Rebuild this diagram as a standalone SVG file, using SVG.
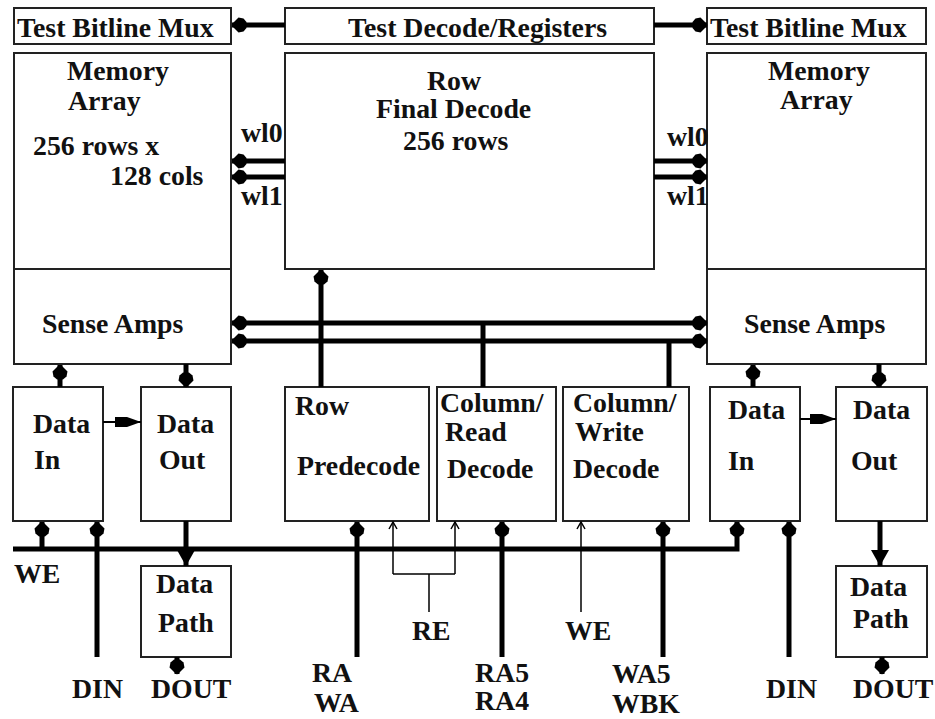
<svg xmlns="http://www.w3.org/2000/svg" width="935" height="719" viewBox="0 0 935 719">
  <style>
    .box { fill: #fff; stroke: #222; stroke-width: 2; }
    .t { font-family: "Liberation Serif", "Times New Roman", serif; font-weight: bold; font-size: 27.8px; fill: #111; }
    .bus { fill: none; stroke: #000; stroke-width: 5; }
    .thin { fill: none; stroke: #000; stroke-width: 1.5; }
    .mid { fill: none; stroke: #000; stroke-width: 2; }
  </style>
  <defs>
    <!-- blunt kite-shaped head used on the wide buses -->
    <marker id="head" viewBox="0 0 18 16" refX="17.5" refY="8" markerWidth="18" markerHeight="16" markerUnits="userSpaceOnUse" orient="auto-start-reverse">
      <path d="M18,8 L16,5.5 L11,0.5 L6,1.5 L3,5 L3,11 L6,14.5 L11,15.5 L16,10.5 Z" fill="#000"/>
    </marker>
    <!-- flat-backed triangle for data out into the data path -->
    <marker id="wedge" viewBox="0 0 16 18" refX="16" refY="9" markerWidth="16" markerHeight="18" markerUnits="userSpaceOnUse" orient="auto">
      <path d="M0,0 L16,9 L0,18 Z" fill="#000"/>
    </marker>
    <marker id="tri" viewBox="0 0 26 12" refX="26" refY="6" markerWidth="26" markerHeight="12" markerUnits="userSpaceOnUse" orient="auto">
      <path d="M0,1 L12,1 L26,6 L12,11 L0,11 Z" fill="#000"/>
    </marker>
    <marker id="open" viewBox="0 0 10 10" refX="5" refY="1" markerWidth="10" markerHeight="10" markerUnits="userSpaceOnUse" orient="0">
      <path d="M1,8 L5,1 L9,8" fill="none" stroke="#000" stroke-width="1.5"/>
    </marker>
  </defs>
  <rect width="935" height="719" fill="#fff"/>

  <!-- blocks -->
  <g id="test-mux-left">
    <rect class="box" x="14" y="8" width="217" height="36"/>
    <text class="t" x="17" y="37">Test Bitline Mux</text>
  </g>
  <g id="test-decode">
    <rect class="box" x="285" y="8" width="369" height="36"/>
    <text class="t" x="348" y="37">Test Decode/Registers</text>
  </g>
  <g id="test-mux-right">
    <rect class="box" x="707" y="8" width="219" height="36"/>
    <text class="t" x="710" y="37">Test Bitline Mux</text>
  </g>

  <g id="array-left">
    <rect class="box" x="14" y="53" width="217" height="311"/>
    <line x1="14" y1="269" x2="231" y2="269" stroke="#222" stroke-width="2"/>
    <text class="t" x="67" y="80">Memory</text>
    <text class="t" x="68" y="110">Array</text>
    <text class="t" x="33" y="155">256 rows x</text>
    <text class="t" x="110" y="185">128 cols</text>
    <text class="t" x="42" y="333">Sense Amps</text>
  </g>
  <g id="row-final-decode">
    <rect class="box" x="285" y="53" width="369" height="216"/>
    <text class="t" x="427" y="90">Row</text>
    <text class="t" x="376" y="118">Final Decode</text>
    <text class="t" x="403" y="150">256 rows</text>
  </g>
  <g id="array-right">
    <rect class="box" x="707" y="53" width="219" height="311"/>
    <line x1="707" y1="269" x2="926" y2="269" stroke="#222" stroke-width="2"/>
    <text class="t" x="768" y="80">Memory</text>
    <text class="t" x="780" y="109">Array</text>
    <text class="t" x="744" y="333">Sense Amps</text>
  </g>

  <g id="data-in-left">
    <rect class="box" x="13" y="387" width="90" height="134"/>
    <text class="t" x="33" y="433">Data</text>
    <text class="t" x="34" y="469">In</text>
  </g>
  <g id="data-out-left">
    <rect class="box" x="141" y="387" width="90" height="134"/>
    <text class="t" x="157" y="433">Data</text>
    <text class="t" x="159" y="469">Out</text>
  </g>
  <g id="row-predecode">
    <rect class="box" x="285" y="387" width="144" height="134"/>
    <text class="t" x="295" y="415">Row</text>
    <text class="t" x="297" y="475">Predecode</text>
  </g>
  <g id="column-read-decode">
    <rect class="box" x="437" y="387" width="119" height="134"/>
    <text class="t" x="440" y="412">Column/</text>
    <text class="t" x="445" y="441">Read</text>
    <text class="t" x="447" y="478">Decode</text>
  </g>
  <g id="column-write-decode">
    <rect class="box" x="563" y="387" width="126" height="134"/>
    <text class="t" x="573" y="412">Column/</text>
    <text class="t" x="575" y="441">Write</text>
    <text class="t" x="573" y="478">Decode</text>
  </g>
  <g id="data-in-right">
    <rect class="box" x="710" y="387" width="90" height="134"/>
    <text class="t" x="728" y="419">Data</text>
    <text class="t" x="728" y="470">In</text>
  </g>
  <g id="data-out-right">
    <rect class="box" x="836" y="387" width="91" height="134"/>
    <text class="t" x="853" y="419">Data</text>
    <text class="t" x="851" y="470">Out</text>
  </g>
  <g id="data-path-left">
    <rect class="box" x="141" y="566" width="90" height="91"/>
    <text class="t" x="156" y="593">Data</text>
    <text class="t" x="158" y="632">Path</text>
  </g>
  <g id="data-path-right">
    <rect class="box" x="836" y="566" width="91" height="91"/>
    <text class="t" x="850" y="596">Data</text>
    <text class="t" x="853" y="628">Path</text>
  </g>

  <!-- signal labels -->
  <g id="labels">
    <text class="t" x="241" y="142">wl0</text>
    <text class="t" x="241" y="205">wl1</text>
    <text class="t" x="667" y="146">wl0</text>
    <text class="t" x="667" y="205">wl1</text>
    <text class="t" x="14" y="583">WE</text>
    <text class="t" x="72" y="698">DIN</text>
    <text class="t" x="151" y="698">DOUT</text>
    <text class="t" x="312" y="682">RA</text>
    <text class="t" x="314" y="712">WA</text>
    <text class="t" x="412" y="640">RE</text>
    <text class="t" x="475" y="682">RA5</text>
    <text class="t" x="475" y="710">RA4</text>
    <text class="t" x="565" y="640">WE</text>
    <text class="t" x="612" y="683">WA5</text>
    <text class="t" x="612" y="713">WBK</text>
    <text class="t" x="766" y="698">DIN</text>
    <text class="t" x="853" y="698">DOUT</text>
  </g>

  <!-- connectors -->
  <g id="connectors">
    <!-- test decode to bitline muxes -->
    <line class="bus" x1="285" y1="25" x2="232" y2="25" marker-end="url(#head)"/>
    <line class="bus" x1="654" y1="25" x2="707" y2="25" marker-end="url(#head)"/>
    <!-- word lines -->
    <line class="bus" x1="285" y1="161" x2="232" y2="161" marker-end="url(#head)"/>
    <line class="bus" x1="285" y1="177" x2="232" y2="177" marker-end="url(#head)"/>
    <line class="bus" x1="654" y1="161" x2="707" y2="161" marker-end="url(#head)"/>
    <line class="bus" x1="654" y1="177" x2="707" y2="177" marker-end="url(#head)"/>
    <!-- sense amp buses -->
    <line class="bus" x1="232" y1="323" x2="707" y2="323" marker-start="url(#head)" marker-end="url(#head)"/>
    <line class="bus" x1="232" y1="341" x2="707" y2="341" marker-start="url(#head)" marker-end="url(#head)"/>
    <line class="bus" x1="483" y1="323" x2="483" y2="387"/>
    <line class="bus" x1="669" y1="341" x2="669" y2="387"/>
    <!-- row predecode to final decode -->
    <line class="bus" x1="321" y1="387" x2="321" y2="270" marker-end="url(#head)"/>
    <!-- sense amps to data in / data out -->
    <line class="bus" x1="60" y1="387" x2="60" y2="365" marker-end="url(#head)"/>
    <line class="bus" x1="186" y1="364" x2="186" y2="387" marker-end="url(#head)"/>
    <line class="bus" x1="753" y1="387" x2="753" y2="365" marker-end="url(#head)"/>
    <line class="bus" x1="879" y1="364" x2="879" y2="387" marker-end="url(#head)"/>
    <!-- data in to data out -->
    <line class="mid" x1="103" y1="422" x2="141" y2="422" marker-end="url(#tri)"/>
    <line class="mid" x1="800" y1="419" x2="836" y2="419" marker-end="url(#tri)"/>
    <!-- WE bus -->
    <path class="bus" d="M13,549 H737 V522" marker-end="url(#head)"/>
    <line class="bus" x1="42" y1="549" x2="42" y2="522" marker-end="url(#head)"/>
    <!-- DIN inputs -->
    <line class="bus" x1="97" y1="657" x2="97" y2="522" marker-end="url(#head)"/>
    <line class="bus" x1="789" y1="657" x2="789" y2="522" marker-end="url(#head)"/>
    <!-- data out to data path to DOUT -->
    <line class="bus" x1="186" y1="521" x2="186" y2="566" marker-end="url(#wedge)"/>
    <line class="bus" x1="177" y1="657" x2="177" y2="674" marker-end="url(#head)"/>
    <line class="bus" x1="880" y1="521" x2="880" y2="566" marker-end="url(#wedge)"/>
    <line class="bus" x1="882" y1="657" x2="882" y2="674" marker-end="url(#head)"/>
    <!-- address inputs -->
    <line class="bus" x1="357" y1="657" x2="357" y2="522" marker-end="url(#head)"/>
    <line class="bus" x1="502" y1="657" x2="502" y2="522" marker-end="url(#head)"/>
    <line class="bus" x1="663" y1="657" x2="663" y2="522" marker-end="url(#head)"/>
    <!-- RE / WE enables -->
    <path class="thin" d="M429,612 V574 M393,574 H455"/>
    <line class="thin" x1="393" y1="574" x2="393" y2="522" marker-end="url(#open)"/>
    <line class="thin" x1="455" y1="574" x2="455" y2="522" marker-end="url(#open)"/>
    <line class="thin" x1="581" y1="612" x2="581" y2="522" marker-end="url(#open)"/>
  </g>
</svg>
